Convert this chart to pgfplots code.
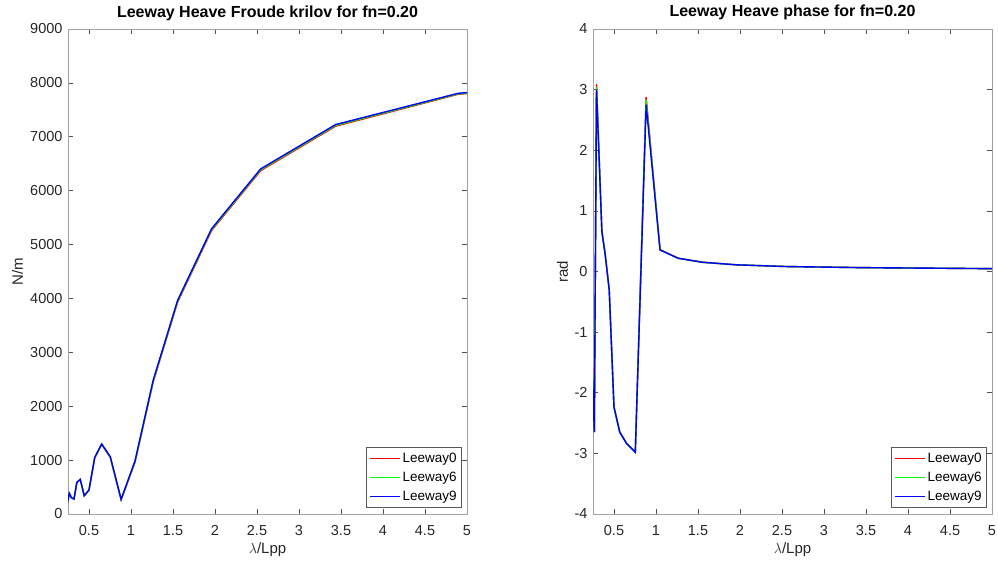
\documentclass[border=0pt]{standalone}
\usepackage{fontspec}
\setmainfont{Liberation Sans}
\usepackage{pgfplots}
\usepackage{pgfplotstable}
\pgfplotsset{compat=1.18}

\definecolor{axgray}{RGB}{160,160,160}
\definecolor{tickgray}{RGB}{80,80,80}
\definecolor{txt}{RGB}{38,38,38}
\definecolor{lw0}{RGB}{255,0,0}
\definecolor{lw6}{RGB}{0,255,0}
\definecolor{lw9}{RGB}{0,0,255}

% Froude-Krylov heave force amplitude [N/m] vs lambda/Lpp
\pgfplotstableread{
x       L0     L6     L9
0.2434  210    210    210
0.2658  382    382    382
0.2916  300    300    300
0.3212  278    278    278
0.3556  587    587    587
0.3958  642    642    642
0.4433  340    340    340
0.4998  440    443    445
0.5680  1040   1045   1050
0.6510  1290   1295   1300
0.7535  1050   1056   1062
0.8825  265    268    272
1.0480  960    975    988
1.2640  2450   2467   2483
1.5550  3932   3948   3965
1.9590  5260   5277   5293
2.5440  6372   6389   6405
3.4360  7197   7212   7227
4.8950  7790   7798   7807
7.5000  8105   8112   8120
}\fkamp

% Heave phase [rad] vs lambda/Lpp
\pgfplotstableread{
x       L0      L6      L9
0.2434  -1.544  -1.657  -1.785
0.2658  -2.65   -2.65   -2.65
0.2916  3.09    3.04    3.00
0.3212  1.95    1.94    1.92
0.3556  0.67    0.66    0.66
0.3958  0.28    0.27    0.27
0.4433  -0.30   -0.31   -0.31
0.4998  -2.23   -2.24   -2.24
0.5680  -2.64   -2.65   -2.65
0.6510  -2.84   -2.84   -2.84
0.7535  -2.98   -2.98   -2.98
0.8825  2.88    2.83    2.75
1.0480  0.36    0.355   0.355
1.2640  0.22    0.218   0.218
1.5550  0.153   0.152   0.152
1.9590  0.11    0.11    0.11
2.5440  0.082   0.082   0.082
3.4360  0.064   0.064   0.064
4.8950  0.048   0.048   0.048
7.5000  0.035   0.035   0.035
}\fkphase

\pgfplotsset{
  mstyle/.style={
    scale only axis, width=399pt, height=485pt,
    xmin=0.25, xmax=5,
    xtick={0.5,1,1.5,2,2.5,3,3.5,4,4.5,5},
    xticklabels={0.5,1,1.5,2,2.5,3,3.5,4,4.5,5},
    scaled ticks=false,
    tick align=inside, major tick length=5pt,
    axis line style={axgray, line width=0.9pt},
    every tick/.style={tickgray, line width=0.6pt},
    tick label style={font=\fontsize{14.5}{16}\selectfont, text=txt},
    xticklabel style={anchor=base, yshift=-21pt},
    yticklabel style={anchor=east, xshift=-2pt},
    label style={font=\fontsize{15}{17}\selectfont, text=txt},
    title style={font=\bfseries\fontsize{16}{18}\selectfont, text=black,
      at={(axis description cs:0.5,1)}, anchor=base, yshift=6pt},
    xlabel={$\lambda$/Lpp},
    xlabel style={at={(axis description cs:0.5,0)}, anchor=base, yshift=-39pt},
    legend style={at={(axis description cs:1,0)}, anchor=south east,
      xshift=-5pt, yshift=6pt, draw=black!65, line width=0.6pt, fill=white,
      font=\fontsize{13.5}{15}\selectfont, text=black,
      inner xsep=3pt, inner ysep=4pt, row sep=4pt},
    legend cell align=left,
    legend image code/.code={\draw[#1, line width=1.3pt] (0pt,0pt) -- (30pt,0pt);},
    every axis plot/.append style={line width=1.4pt},
  }
}

\begin{document}
\begin{tikzpicture}
\path[use as bounding box] (0,0) rectangle (998pt,563pt);

\begin{axis}[mstyle,
  at={(68pt,49pt)}, anchor=south west,
  ymin=0, ymax=9000,
  ytick={0,1000,2000,3000,4000,5000,6000,7000,8000,9000},
  yticklabels={0,1000,2000,3000,4000,5000,6000,7000,8000,9000},
  title={Leeway Heave Froude krilov for fn=0.20},
  ylabel={N/m},
  ylabel style={at={(axis description cs:-0.1128,0.5)}, anchor=base},
]
\addplot[draw=lw0] table[x=x, y=L0] {\fkamp};
\addplot[draw=lw6] table[x=x, y=L6] {\fkamp};
\addplot[draw=lw9] table[x=x, y=L9] {\fkamp};
\legend{Leeway0, Leeway6, Leeway9}
\end{axis}

\begin{axis}[mstyle,
  at={(593pt,49pt)}, anchor=south west,
  ymin=-4, ymax=4,
  ytick={-4,-3,-2,-1,0,1,2,3,4},
  yticklabels={-4,-3,-2,-1,0,1,2,3,4},
  title={Leeway Heave phase for fn=0.20},
  ylabel={rad},
  ylabel style={at={(axis description cs:-0.0627,0.5)}, anchor=base},
]
\addplot[draw=lw0] table[x=x, y=L0] {\fkphase};
\addplot[draw=lw6] table[x=x, y=L6] {\fkphase};
\addplot[draw=lw9] table[x=x, y=L9] {\fkphase};
\legend{Leeway0, Leeway6, Leeway9}
\end{axis}
\end{tikzpicture}
\end{document}
